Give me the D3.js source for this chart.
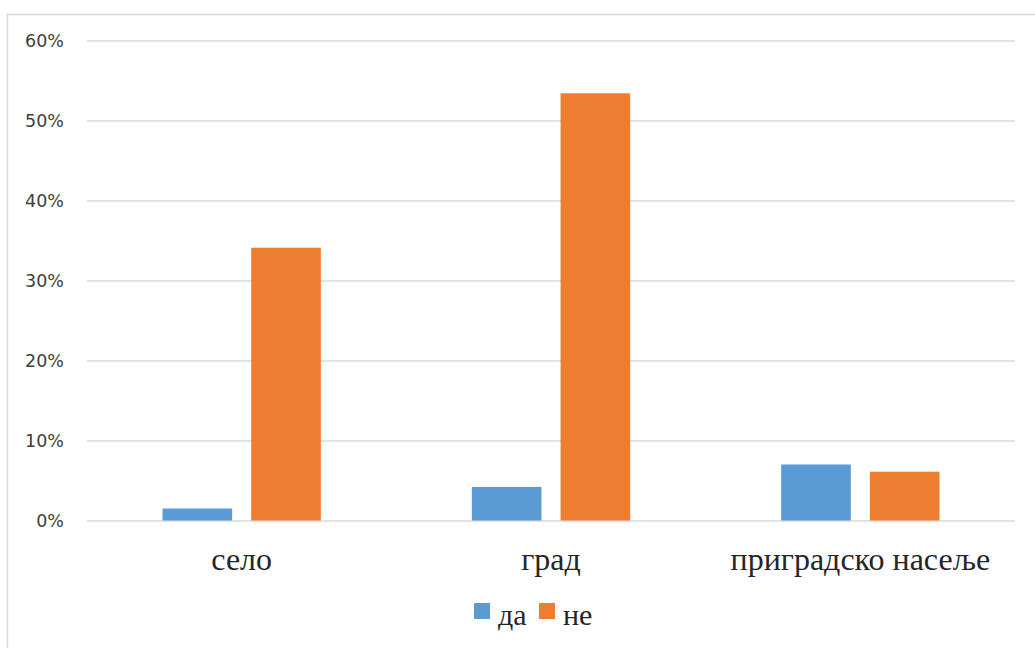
<!DOCTYPE html>
<html>
<head>
<meta charset="utf-8">
<script src="https://cdn.jsdelivr.net/npm/d3@7"></script>
<style>
  html, body { margin: 0; padding: 0; background: #ffffff; }
  svg { display: block; }
</style>
</head>
<body>
<div id="chart"></div>
<script>
// Share of answers by settlement type
const categories = ["село", "град", "приградско насеље"];
const seriesNames = ["да", "не"];
const daValues = [0.015, 0.042, 0.070];
const neValues = [0.341, 0.534, 0.061];
const yTicks = [0, 0.1, 0.2, 0.3, 0.4, 0.5, 0.6];

const colors = { "да": "#5b9bd5", "не": "#ed7d31" };

const W = 1035, H = 648;
const plot = { left: 87, right: 1015, top: 40.5, bottom: 520.5 };

const svg = d3.select("#chart").append("svg")
  .attr("width", W).attr("height", H);

// chart area outline
svg.append("rect")
  .attr("x", 7.5).attr("y", 14.5)
  .attr("width", W + 10).attr("height", H + 10)
  .attr("fill", "#ffffff")
  .attr("stroke", "#d9d9d9").attr("stroke-width", 1.5);

const x0 = d3.scaleBand()
  .domain(categories)
  .range([plot.left, plot.right])
  .paddingInner(0).paddingOuter(0);

const x1 = d3.scaleBand()
  .domain(seriesNames)
  .range([75.5, x0.bandwidth() - 75.5])
  .paddingInner(0.215);

const y = d3.scaleLinear()
  .domain([0, 0.6])
  .range([plot.bottom, plot.top]);

// gridlines and y labels
const yAxis = d3.axisLeft(y)
  .tickValues(yTicks)
  .tickFormat(d3.format(".0%"))
  .tickSize(-(plot.right - plot.left))
  .tickPadding(23);

const gy = svg.append("g")
  .attr("transform", `translate(${plot.left},0)`)
  .call(yAxis);
gy.select(".domain").remove();
gy.selectAll(".tick line")
  .attr("stroke", "#d9d9d9").attr("stroke-width", 1.5);
gy.selectAll(".tick text")
  .attr("fill", "#404040")
  .style("font-family", "'DejaVu Sans', sans-serif")
  .style("font-size", "17.5px");

// bars
const rows = categories.map((c, i) => ({
  cat: c,
  vals: [{ s: "да", v: daValues[i] }, { s: "не", v: neValues[i] }]
}));

const groups = svg.append("g").selectAll("g")
  .data(rows).join("g")
  .attr("transform", d => `translate(${x0(d.cat)},0)`);

groups.selectAll("rect")
  .data(d => d.vals).join("rect")
  .attr("x", d => x1(d.s))
  .attr("width", x1.bandwidth())
  .attr("y", d => y(d.v))
  .attr("height", d => y(0) - y(d.v))
  .attr("fill", d => colors[d.s]);

// category labels
svg.append("g").selectAll("text")
  .data(categories).join("text")
  .attr("x", d => x0(d) + x0.bandwidth() / 2)
  .attr("y", 570)
  .attr("text-anchor", "middle")
  .attr("fill", "#262626")
  .style("font-family", "'Liberation Serif', 'Times New Roman', serif")
  .style("font-size", "32px")
  .text(d => d);

// legend
const legend = svg.append("g");
const legendItems = [{ s: "да", x: 474 }, { s: "не", x: 539 }];
legend.selectAll("rect")
  .data(legendItems).join("rect")
  .attr("x", d => d.x).attr("y", 603)
  .attr("width", 16).attr("height", 16)
  .attr("fill", d => colors[d.s]);
legend.selectAll("text")
  .data(legendItems).join("text")
  .attr("x", d => d.x + 24).attr("y", 625)
  .attr("fill", "#262626")
  .style("font-family", "'Liberation Serif', 'Times New Roman', serif")
  .style("font-size", "30px")
  .text(d => d.s);
</script>
</body>
</html>
